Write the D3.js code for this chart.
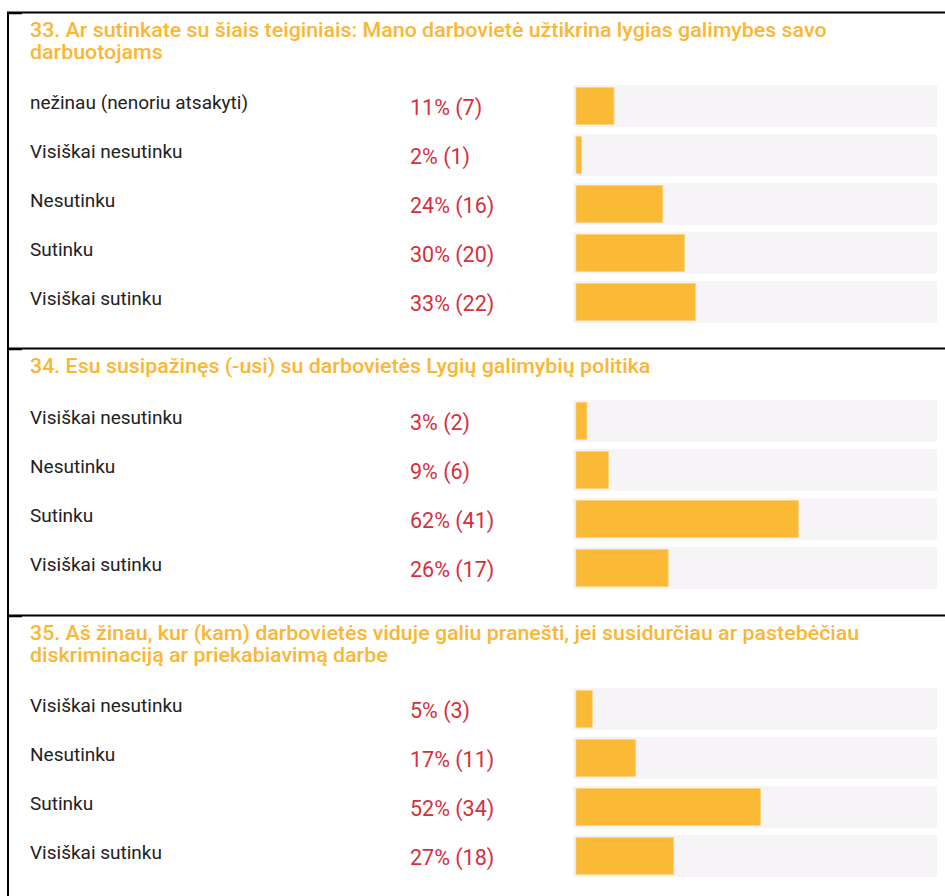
<!DOCTYPE html>
<html>
<head>
<meta charset="utf-8">
<script src="https://cdn.jsdelivr.net/npm/d3@7"></script>
<style>
  html, body { margin: 0; padding: 0; background: #fff; }
  svg { display: block; }
</style>
</head>
<body>
<svg id="chart"></svg>
<script>
// question titles, already wrapped as in the report
const titles = [
  ["33. Ar sutinkate su šiais teiginiais: Mano darbovietė užtikrina lygias galimybes savo", "darbuotojams"],
  ["34. Esu susipažinęs (-usi) su darbovietės Lygių galimybių politika"],
  ["35. Aš žinau, kur (kam) darbovietės viduje galiu pranešti, jei susidurčiau ar pastebėčiau", "diskriminaciją ar priekabiavimą darbe"]
];

// answer categories per question
const answers33 = ["nežinau (nenoriu atsakyti)", "Visiškai nesutinku", "Nesutinku", "Sutinku", "Visiškai sutinku"];
const answers34 = ["Visiškai nesutinku", "Nesutinku", "Sutinku", "Visiškai sutinku"];
const answers35 = ["Visiškai nesutinku", "Nesutinku", "Sutinku", "Visiškai sutinku"];

// respondent counts per answer
const counts33 = [7, 1, 16, 20, 22];
const counts34 = [2, 6, 41, 17];
const counts35 = [3, 11, 34, 18];

const W = 945, H = 896;
const sectionTops = [12, 348, 615];
const lineH = 21.5;
const rowStep = 49, trackH = 42;
const trackX0 = 573, trackX1 = 937, inset = 3;

const svg = d3.select("#chart").attr("width", W).attr("height", H);

const sections = [
  { title: titles[0], answers: answers33, counts: counts33 },
  { title: titles[1], answers: answers34, counts: counts34 },
  { title: titles[2], answers: answers35, counts: counts35 }
];

sections.forEach((s, si) => {
  const top = sectionTops[si];
  const g = svg.append("g");

  // separator line on top of each block + little stub at left
  g.append("line")
    .attr("x1", 7).attr("x2", W).attr("y1", top + 0.5).attr("y2", top + 0.5)
    .attr("stroke", "#000").attr("stroke-width", 2);
  g.append("line")
    .attr("x1", 7).attr("x2", 22).attr("y1", top + 1.5).attr("y2", top + 1.5)
    .attr("stroke", "#000").attr("stroke-width", 1.5);

  // title (slightly stretched, the report font is wider)
  s.title.forEach((line, li) => {
    g.append("text")
      .attr("transform", `translate(30,${top + 18.5 + li * lineH}) scale(1.07,1)`)
      .attr("dominant-baseline", "central")
      .attr("font-family", "Roboto, sans-serif")
      .attr("font-weight", 500)
      .attr("font-size", 20)
      .attr("fill", "#fbb634")
      .text(line);
  });

  const firstTop = top + 19 + (s.title.length - 1) * 21 + 33;
  const n = s.answers.length;
  const y = d3.scaleBand()
    .domain(s.answers)
    .range([firstTop, firstTop + n * rowStep - (rowStep - trackH)])
    .paddingInner((rowStep - trackH) / rowStep)
    .paddingOuter(0);

  const total = d3.sum(s.counts);
  const x = d3.scaleLinear()
    .domain([0, total])
    .range([trackX0 + inset, trackX1 - inset]);

  const rows = g.selectAll("g.row")
    .data(s.answers.map((a, i) => ({ label: a, count: s.counts[i] })))
    .join("g").attr("class", "row");

  rows.append("rect")
    .attr("x", trackX0)
    .attr("y", d => y(d.label))
    .attr("width", trackX1 - trackX0)
    .attr("height", y.bandwidth())
    .attr("fill", "#f6f4f7");

  rows.append("rect")
    .attr("x", x(0))
    .attr("y", d => y(d.label) + 2.5)
    .attr("width", d => x(d.count) - x(0))
    .attr("height", y.bandwidth() - 5)
    .attr("fill", "#fbba35")
    .attr("stroke", "#fcd27a")
    .attr("stroke-width", 0.8);

  rows.append("text")
    .attr("x", 30)
    .attr("y", d => y(d.label) + y.bandwidth() / 2 - 4)
    .attr("dominant-baseline", "central")
    .attr("font-family", "Roboto, sans-serif")
    .attr("font-size", 19)
    .attr("fill", "#222")
    .text(d => d.label);

  rows.append("text")
    .attr("x", 410)
    .attr("y", d => y(d.label) + y.bandwidth() / 2 + 1)
    .attr("dominant-baseline", "central")
    .attr("font-family", "Roboto, sans-serif")
    .attr("font-size", 21.5)
    .attr("fill", "#d5303e")
    .text(d => `${Math.round(d.count / total * 100)}% (${d.count})`);
});

// left frame line
svg.append("line")
  .attr("x1", 8).attr("x2", 8).attr("y1", sectionTops[0]).attr("y2", H)
  .attr("stroke", "#000").attr("stroke-width", 2);
</script>
</body>
</html>
